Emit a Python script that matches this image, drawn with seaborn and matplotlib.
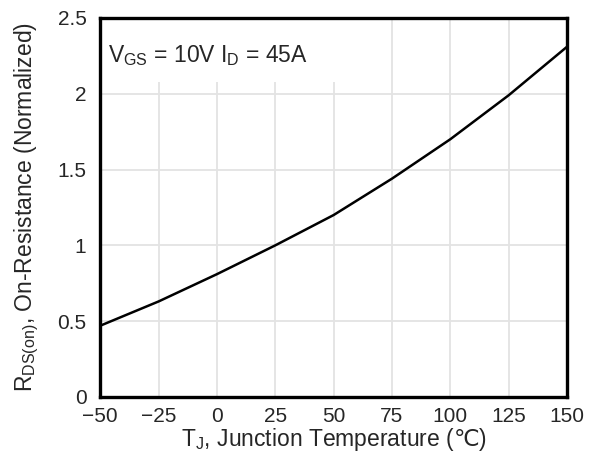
import pandas as pd
import matplotlib
matplotlib.use('Agg')
import matplotlib.pyplot as plt
from matplotlib.patches import Rectangle
import seaborn as sns

# Normalized on-resistance vs junction temperature
temp_c = [-50, -25, 0, 25, 50, 75, 100, 125, 150]
rds_norm = [0.47, 0.63, 0.81, 1.00, 1.20, 1.44, 1.70, 1.99, 2.31]
x_ticks = [-50, -25, 0, 25, 50, 75, 100, 125, 150]
y_ticks = [0, 0.5, 1, 1.5, 2, 2.5]
y_tick_labels = ['0', '0.5', '1', '1.5', '2', '2.5']

df = pd.DataFrame({'Tj': temp_c, 'Rds': rds_norm})

sns.set_style('white')
plt.rcParams['font.family'] = ['Liberation Sans', 'DejaVu Sans']
plt.rcParams['mathtext.fontset'] = 'custom'
plt.rcParams['mathtext.rm'] = 'Liberation Sans'
plt.rcParams['mathtext.it'] = 'Liberation Sans:italic'
plt.rcParams['mathtext.bf'] = 'Liberation Sans:bold'
plt.rcParams['mathtext.sf'] = 'DejaVu Sans'
plt.rcParams['mathtext.default'] = 'rm'

fig = plt.figure(figsize=(5.9, 4.61), dpi=100)
ax = fig.add_axes([0.17, 0.139, 0.791, 0.822])

sns.lineplot(x='Tj', y='Rds', data=df, ax=ax, color='black', linewidth=1.8)

ax.set_xlim(-50, 150)
ax.set_ylim(0, 2.5)
ax.set_xticks(x_ticks)
ax.set_yticks(y_ticks)
ax.set_yticklabels(y_tick_labels)
ax.grid(True, color='#e3e3e3', linewidth=1.3)
ax.tick_params(labelsize=15, length=0)
ax.tick_params(axis='x', pad=7)
ax.tick_params(axis='y', pad=10)
for s in ax.spines.values():
    s.set_color('black')
    s.set_linewidth(2.4)

ax.set_xlabel('T$_J$, Junction Temperature ($\\mathsf{\u2103}$)', fontsize=16.5, labelpad=0)
ax.set_ylabel('R$_{DS(on)}$, On-Resistance (Normalized)', fontsize=16.5, labelpad=12)

# white patch behind the condition text (hides grid there)
ax.add_patch(Rectangle((0, 0.832), 0.53, 0.168, transform=ax.transAxes,
                       facecolor='white', edgecolor='none', zorder=1))
ax.text(0.016, 0.9, 'V$_{GS}$ = 10V I$_D$ = 45A', transform=ax.transAxes,
        fontsize=16.5, va='center', ha='left', zorder=3)

plt.savefig('out.png', dpi=100)
